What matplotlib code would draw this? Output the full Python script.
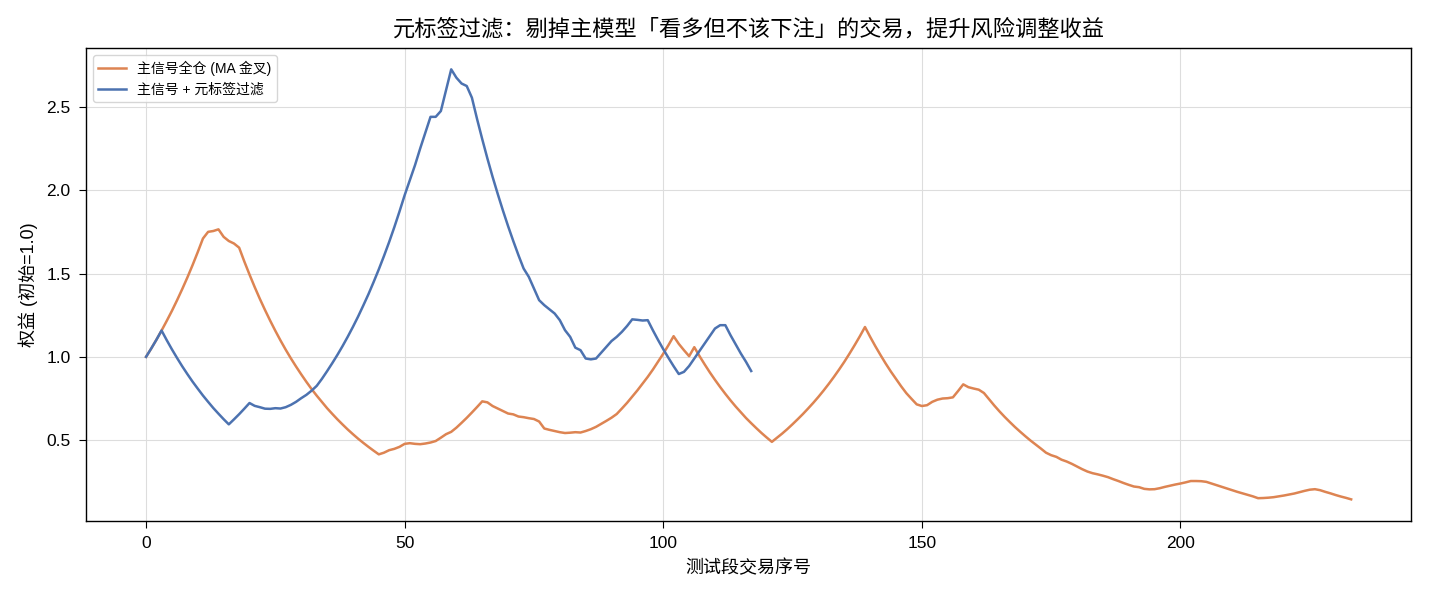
import matplotlib
matplotlib.use('Agg')
import matplotlib.pyplot as plt
import numpy as np

plt.rcParams['font.family'] = ['Liberation Sans', 'Noto Sans CJK SC', 'DejaVu Sans']
plt.rcParams['axes.unicode_minus'] = False

# equity curve, main signal full position
equity_main = [
    1.000, 1.050, 1.1025, 1.158, 1.216, 1.276, 1.340, 1.407, 1.477, 1.551,
    1.629, 1.710, 1.750, 1.755, 1.765, 1.720, 1.695, 1.680, 1.655, 1.572,
    1.494, 1.419, 1.348, 1.281, 1.217, 1.156, 1.098, 1.043, 0.991, 0.942,
    0.895, 0.850, 0.807, 0.767, 0.729, 0.692, 0.658, 0.625, 0.594, 0.564,
    0.536, 0.509, 0.484, 0.460, 0.437, 0.415, 0.425, 0.440, 0.448, 0.460,
    0.478, 0.482, 0.478, 0.476, 0.480, 0.486, 0.495, 0.515, 0.536, 0.550,
    0.575, 0.604, 0.634, 0.666, 0.699, 0.733, 0.727, 0.705, 0.690, 0.675,
    0.660, 0.655, 0.642, 0.638, 0.632, 0.627, 0.612, 0.570, 0.562, 0.555,
    0.548, 0.543, 0.545, 0.548, 0.546, 0.555, 0.566, 0.580, 0.598, 0.616,
    0.635, 0.657, 0.690, 0.724, 0.761, 0.799, 0.839, 0.880, 0.924, 0.971,
    1.019, 1.070, 1.124, 1.078, 1.040, 1.004, 1.058, 1.005, 0.955, 0.907,
    0.862, 0.819, 0.778, 0.739, 0.702, 0.667, 0.633, 0.602, 0.572, 0.543,
    0.516, 0.490, 0.515, 0.540, 0.567, 0.596, 0.626, 0.657, 0.690, 0.724,
    0.760, 0.798, 0.838, 0.880, 0.924, 0.970, 1.019, 1.070, 1.123, 1.179,
    1.120, 1.064, 1.011, 0.960, 0.912, 0.867, 0.823, 0.782, 0.748, 0.715,
    0.705, 0.710, 0.730, 0.743, 0.750, 0.752, 0.757, 0.795, 0.835, 0.818,
    0.810, 0.803, 0.783, 0.745, 0.708, 0.673, 0.640, 0.609, 0.579, 0.551,
    0.524, 0.498, 0.474, 0.450, 0.425, 0.410, 0.400, 0.383, 0.372, 0.358,
    0.342, 0.326, 0.312, 0.302, 0.295, 0.287, 0.278, 0.266, 0.255, 0.243,
    0.232, 0.222, 0.218, 0.208, 0.205, 0.206, 0.212, 0.220, 0.227, 0.234,
    0.240, 0.247, 0.255, 0.255, 0.254, 0.250, 0.240, 0.230, 0.220, 0.210,
    0.200, 0.190, 0.181, 0.172, 0.163, 0.152, 0.153, 0.155, 0.158, 0.163,
    0.168, 0.174, 0.180, 0.188, 0.196, 0.203, 0.206, 0.200, 0.190, 0.181,
    0.171, 0.162, 0.154, 0.145,
]

# equity curve, main signal + meta-label filter
equity_meta = [
    1.000, 1.050, 1.1025, 1.158, 1.100, 1.045, 0.993, 0.943, 0.896, 0.851,
    0.809, 0.768, 0.730, 0.693, 0.659, 0.626, 0.595, 0.625, 0.656, 0.689,
    0.723, 0.706, 0.698, 0.689, 0.688, 0.692, 0.690, 0.698, 0.712, 0.730,
    0.752, 0.772, 0.797, 0.826, 0.868, 0.914, 0.962, 1.012, 1.065, 1.121,
    1.180, 1.242, 1.308, 1.376, 1.449, 1.525, 1.605, 1.689, 1.778, 1.872,
    1.970, 2.060, 2.150, 2.250, 2.345, 2.440, 2.440, 2.475, 2.600, 2.725,
    2.675, 2.640, 2.625, 2.555, 2.427, 2.306, 2.190, 2.080, 1.977, 1.878,
    1.784, 1.695, 1.610, 1.530, 1.480, 1.410, 1.340, 1.310, 1.285, 1.260,
    1.220, 1.160, 1.120, 1.055, 1.040, 0.990, 0.985, 0.990, 1.025, 1.060,
    1.095, 1.120, 1.150, 1.185, 1.225, 1.222, 1.218, 1.220, 1.159, 1.101,
    1.046, 0.994, 0.944, 0.897, 0.910, 0.945, 0.990, 1.035, 1.080, 1.125,
    1.170, 1.190, 1.190, 1.130, 1.075, 1.020, 0.970, 0.915,
]

label_main = '主信号全仓 (MA 金叉)'
label_meta = '主信号 + 元标签过滤'

fig, ax = plt.subplots(figsize=(14.3, 5.98), dpi=100)
fig.subplots_adjust(left=0.060, right=0.987, bottom=0.129, top=0.920)

ax.plot(np.arange(len(equity_main)), equity_main, color='#dd8452', lw=1.8, label=label_main)
ax.plot(np.arange(len(equity_meta)), equity_meta, color='#4c72b0', lw=1.8, label=label_meta)

ax.grid(True, color='#dddddd', lw=0.8)
ax.set_axisbelow(True)
for s in ax.spines.values():
    s.set_color('black')
    s.set_linewidth(1.0)

ax.set_title('元标签过滤：剔掉主模型「看多但不该下注」的交易，提升风险调整收益', fontsize=16, pad=9)
ax.set_xlabel('测试段交易序号', fontsize=13, labelpad=6)
ax.set_ylabel('权益 (初始=1.0)', fontsize=13, labelpad=6)
ax.tick_params(labelsize=12.5, length=5, pad=6)
ax.legend(loc='upper left', fontsize=10, framealpha=0.8)

plt.savefig('out.png', dpi=100)
